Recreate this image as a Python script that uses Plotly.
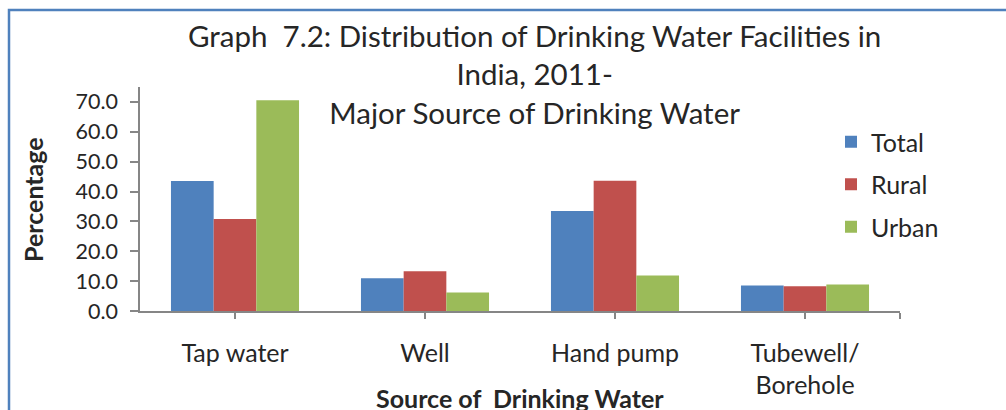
import plotly.graph_objects as go

categories = ["Tap water", "Well", "Hand pump", "Tubewell/<br>Borehole"]
total = [43.5, 11.0, 33.5, 8.5]
rural = [30.8, 13.3, 43.6, 8.3]
urban = [70.6, 6.2, 11.9, 8.9]
y_ticks = [0, 10, 20, 30, 40, 50, 60, 70]
y_tick_labels = ["0.0", "10.0", "20.0", "30.0", "40.0", "50.0", "60.0", "70.0"]
title_lines = ["Graph  7.2: Distribution of Drinking Water Facilities in", "India, 2011-", "Major Source of Drinking Water"]

FONT = "Lato"
TXT = "#262626"
W, H = 1006, 410
L, R, T, B = 140, 106, 87, 99

x_pos = list(range(len(categories)))

fig = go.Figure()
for name, vals, col in [("Total", total, "#4F81BD"), ("Rural", rural, "#C0504D"), ("Urban", urban, "#9BBB59")]:
    fig.add_trace(go.Bar(x=x_pos, y=vals, name=name, marker=dict(color=col, line=dict(width=0)),
                         legendgroup=name))

pw = W - L - R
ph = H - T - B

def px_x(x):
    return (x - L) / pw

def px_y(y):
    return 1 - (y - T) / ph

fig.update_layout(
    width=W, height=H,
    margin=dict(l=L, r=R, t=T, b=B, autoexpand=False),
    paper_bgcolor="white", plot_bgcolor="white",
    barmode="group", bargap=0.326, bargroupgap=0,
    font=dict(family=FONT, color=TXT, size=24),
    showlegend=True,
    legend=dict(x=px_x(831), xanchor="left", y=px_y(119), yanchor="top",
                font=dict(family=FONT, size=25, color=TXT), bgcolor="rgba(0,0,0,0)",
                traceorder="grouped", tracegroupgap=7, itemwidth=30),
    xaxis=dict(
        range=[-0.5, 3.5], tickmode="array",
        tickvals=x_pos + [3.5], ticktext=categories + [""],
        showline=True, linecolor="#868686", linewidth=1.5,
        ticks="outside", ticklen=6, tickcolor="#868686", tickwidth=1.5,
        showgrid=False, zeroline=False,
        tickfont=dict(family=FONT, size=25, color=TXT),
        ticklabelstandoff=13,
    ),
    yaxis=dict(
        range=[0, 75], tickmode="array", tickvals=y_ticks, ticktext=y_tick_labels,
        showline=True, linecolor="#868686", linewidth=1.5,
        ticks="outside", ticklen=8, tickcolor="#868686", tickwidth=1.5,
        showgrid=False, zeroline=False,
        tickfont=dict(family=FONT, size=21.5, color=TXT),
        ticklabelstandoff=8,
    ),
    annotations=[
        dict(text="<br>".join(title_lines), xref="paper", yref="paper",
             x=px_x(534), y=px_y(16), xanchor="center", yanchor="top", align="center",
             showarrow=False, font=dict(family=FONT, size=29.5, color=TXT)),
        dict(text="<b>Source of  Drinking Water</b>", xref="paper", yref="paper",
             x=px_x(520), y=px_y(398), xanchor="center", yanchor="middle", showarrow=False,
             font=dict(family=FONT, size=25, color=TXT)),
        dict(text="<b>Percentage</b>", xref="paper", yref="paper", textangle=-90,
             x=px_x(33), y=px_y(200), xanchor="center", yanchor="middle", showarrow=False,
             font=dict(family=FONT, size=25, color=TXT)),
    ],
    shapes=[dict(type="rect", xref="paper", yref="paper",
                 x0=px_x(9), x1=px_x(1030),
                 y0=px_y(440), y1=px_y(10),
                 line=dict(color="#4F81BD", width=2.5), fillcolor="rgba(0,0,0,0)", layer="below")],
)

fig.write_html("out.html", config={"displayModeBar": False},
               post_script="document.body.style.margin='0';document.body.style.overflow='hidden';")
